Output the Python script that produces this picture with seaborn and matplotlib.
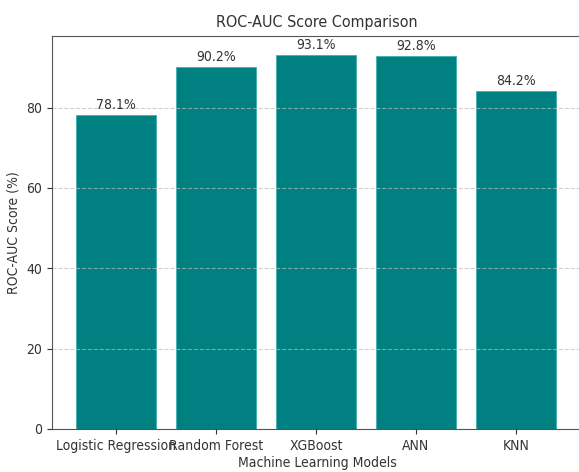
import matplotlib
matplotlib.use("Agg")
import matplotlib.pyplot as plt
import seaborn as sns
import pandas as pd

models = ["Logistic Regression", "Random Forest", "XGBoost", "ANN", "KNN"]
scores = [78.1, 90.2, 93.1, 92.8, 84.2]

plt.rcParams['font.family'] = ['DejaVu Sans']
plt.rcParams['font.stretch'] = 'condensed'
text_color = '#333333'

df = pd.DataFrame({"Model": models, "Score": scores})

fig = plt.figure(figsize=(5.79, 4.72), dpi=100)
ax = fig.add_axes([52/579, 43/472, 530/579, 393.3/472])
sns.barplot(data=df, x="Model", y="Score", color="#008080", saturation=1,
            width=0.8, ax=ax, edgecolor="#3fb0b0", linewidth=0.6)
ax.set_xlim(-0.64, 4.66)
ax.set_ylim(0, 97.9)

for c in ax.containers:
    ax.bar_label(c, labels=[f"{v:.1f}%" for v in scores], padding=2,
                 fontsize=10, color=text_color, fontstretch='condensed')

ax.set_title("ROC-AUC Score Comparison", fontsize=11.5, color=text_color,
             fontstretch='condensed', pad=6)
ax.set_xlabel("Machine Learning Models", fontsize=10, color=text_color,
              fontstretch='condensed', labelpad=2.5)
ax.set_ylabel("ROC-AUC Score (%)", fontsize=10, color=text_color,
              fontstretch='condensed')
ax.set_yticks([0, 20, 40, 60, 80])
ax.tick_params(labelsize=10, colors=text_color)
for lab in ax.get_xticklabels() + ax.get_yticklabels():
    lab.set_fontstretch('condensed')
ax.yaxis.grid(True, linestyle='--', color='#bbbbbb', alpha=0.7)
ax.set_axisbelow(False)
for s in ax.spines.values():
    s.set_color('#555555')
ax.spines['right'].set_visible(False)

fig.savefig("out.png", dpi=100)
